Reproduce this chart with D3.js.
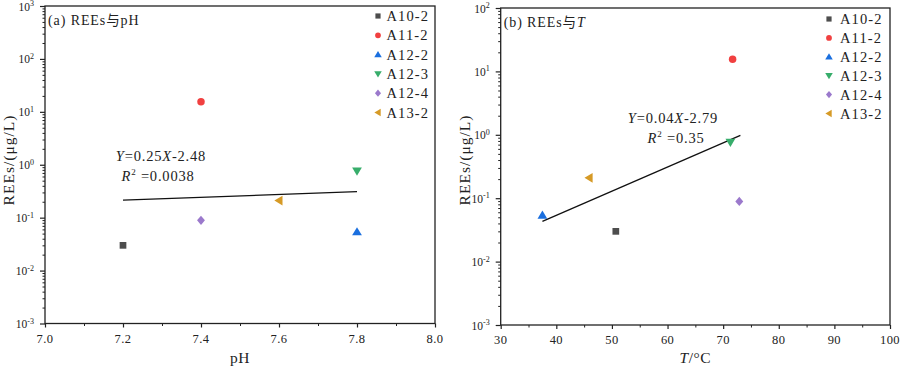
<!DOCTYPE html>
<html><head><meta charset="utf-8">
<script src="https://cdn.jsdelivr.net/npm/d3@7"></script>
<style>
body{margin:0;background:#fff;}
svg text{font-family:"Liberation Serif","Times New Roman",serif;fill:#222;}
</style></head>
<body><svg id="c" width="900" height="369"></svg>
<script>
// ---- data ----
const samples = ["A10-2","A11-2","A12-2","A12-3","A12-4","A13-2"];
const colors = ["#4d4d4d","#f14040","#1a6fdf","#37ad6b","#9b79cc","#d69a26"];
const shapes = ["square","circle","triUp","triDown","diamond","triLeft"];
const pH = [7.2, 7.4, 7.8, 7.8, 7.4, 7.6];
const T = [50.7, 71.7, 37.5, 71.3, 72.9, 45.9];
const REEs = [0.030, 15.5, 0.054, 0.76, 0.089, 0.21];
const fitA = [[7.2, 0.215], [7.8, 0.31]];
const fitB = [[37.5, 0.043], [73.1, 0.98]];
const xTicksA = [7.0, 7.2, 7.4, 7.6, 7.8, 8.0];
const xTicksB = [30, 40, 50, 60, 70, 80, 90, 100];
const yExpA = [-3, -2, -1, 0, 1, 2, 3];
const yExpB = [-3, -2, -1, 0, 1, 2];

const svg = d3.select("#c");

function symbolPath(shape, size){
  const s = size;
  switch(shape){
    case "square": return d3.symbol(d3.symbolSquare, s*s*0.8)();
    case "circle": return d3.symbol(d3.symbolCircle, Math.PI*s*s/4)();
    case "diamond": { const r=s*0.62; return `M0,${-r}L${r*0.85},0L0,${r}L${-r*0.85},0Z`; }
    case "triUp": { const r=s*0.62; return `M0,${-r}L${r*1.05},${r*0.75}L${-r*1.05},${r*0.75}Z`; }
    case "triDown": { const r=s*0.62; return `M0,${r}L${r*1.05},${-r*0.75}L${-r*1.05},${-r*0.75}Z`; }
    case "triLeft": { const r=s*0.62; return `M${-r},0L${r*0.75},${-r*1.05}L${r*0.75},${r*1.05}Z`; }
  }
}

function panel(opt){
  const g = svg.append("g");
  const x = d3.scaleLinear().domain(opt.xdom).range([opt.x0, opt.x1]);
  const y = d3.scaleLog().domain([1e-3, Math.pow(10, opt.yExp[opt.yExp.length-1])]).range([opt.y0, opt.y1]);

  g.append("rect").attr("x",opt.x0).attr("y",opt.y1).attr("width",opt.x1-opt.x0).attr("height",opt.y0-opt.y1)
    .attr("fill","none").attr("stroke","#222").attr("stroke-width",1.3);

  const majors = opt.yExp.map(e=>Math.pow(10,e));
  const minors = [];
  opt.yExp.slice(0,-1).forEach(e=>{ for(let k=2;k<=9;k++) minors.push(k*Math.pow(10,e)); });
  g.append("g").attr("transform",`translate(${opt.x0},0)`)
    .call(d3.axisLeft(y).tickValues(majors).tickSize(5).tickFormat(""))
    .call(a=>a.select(".domain").remove()).selectAll("line").attr("stroke","#222").attr("stroke-width",1.2);
  g.append("g").attr("transform",`translate(${opt.x0},0)`)
    .call(d3.axisLeft(y).tickValues(minors).tickSize(2.5).tickFormat(""))
    .call(a=>a.select(".domain").remove()).selectAll("line").attr("stroke","#222").attr("stroke-width",1);
  opt.yExp.forEach(e=>{
    const t = g.append("text").attr("x",opt.x0-11).attr("y",y(Math.pow(10,e))+4.5).attr("text-anchor","end")
      .style("font-size","11.5px");
    t.append("tspan").text("10");
    t.append("tspan").attr("dy",-4.5).style("font-size","8px").text(String(e));
  });

  const step = opt.xTicks[1]-opt.xTicks[0];
  const xmin = [];
  opt.xTicks.slice(0,-1).forEach(v=>xmin.push(v+step/2));
  g.append("g").attr("transform",`translate(0,${opt.y0})`)
    .call(d3.axisBottom(x).tickValues(opt.xTicks).tickSize(4).tickFormat(""))
    .call(a=>a.select(".domain").remove()).selectAll("line").attr("stroke","#222").attr("stroke-width",1.2);
  g.append("g").attr("transform",`translate(0,${opt.y0})`)
    .call(d3.axisBottom(x).tickValues(xmin).tickSize(2.5).tickFormat(""))
    .call(a=>a.select(".domain").remove()).selectAll("line").attr("stroke","#222").attr("stroke-width",1);
  opt.xTicks.forEach(v=>{
    g.append("text").attr("x",x(v)).attr("y",opt.y0+19).attr("text-anchor","middle")
      .style("font-size","12.5px").style("letter-spacing","0.4px").text(opt.xfmt(v));
  });

  g.append("text").attr("transform",`translate(${opt.ylabX},160) rotate(-90)`)
    .attr("text-anchor","middle").style("font-size","15.5px").style("letter-spacing","1px").text("REEs/(μg/L)");
  const xl = g.append("text").attr("x",(opt.x0+opt.x1)/2).attr("y",363).attr("text-anchor","middle")
    .style("font-size","15.5px").style("letter-spacing","0.5px");
  opt.xlab(xl);

  const tt = g.append("text").attr("x",opt.x0+3).attr("y",opt.y1+19).style("font-size","14px").style("letter-spacing","0.9px");
  opt.title(tt);

  g.append("path").datum(opt.fit)
    .attr("d", d3.line().x(d=>x(d[0])).y(d=>y(d[1])))
    .attr("stroke","#111").attr("stroke-width",1.3).attr("fill","none");

  samples.forEach((s,i)=>{
    g.append("path").attr("d",symbolPath(shapes[i],7.5))
      .attr("transform",`translate(${x(opt.xs[i])},${y(REEs[i])})`).attr("fill",colors[i]);
  });

  const eq1 = g.append("text").attr("x",opt.eqX).attr("y",opt.eqY).attr("text-anchor","middle")
    .style("font-size","14.5px").style("letter-spacing","0.8px");
  eq1.append("tspan").style("font-style","italic").text("Y");
  eq1.append("tspan").text("=" + opt.eqA);
  eq1.append("tspan").style("font-style","italic").text("X");
  eq1.append("tspan").text(opt.eqB);
  const eq2 = g.append("text").attr("x",opt.eqX+opt.r2dx).attr("y",opt.eqY+20).attr("text-anchor","middle")
    .style("font-size","14.5px").style("letter-spacing","0.8px");
  eq2.append("tspan").style("font-style","italic").text("R");
  eq2.append("tspan").attr("dy",-6).style("font-size","9px").text("2");
  eq2.append("tspan").attr("dy",6).text(" =" + opt.r2);

  samples.forEach((s,i)=>{
    const ly = opt.legY + i*opt.legStep;
    g.append("path").attr("d",symbolPath(shapes[i],5.8))
      .attr("transform",`translate(${opt.legX},${ly})`).attr("fill",colors[i]);
    g.append("text").attr("x",opt.legX+opt.legDx).attr("y",ly+5).style("font-size","14.5px")
      .style("letter-spacing","1.1px").text(s);
  });
}

panel({
  x0:45, x1:435, y0:323.5, y1:6, xdom:[7.0,8.0], yExp:yExpA, xTicks:xTicksA, xs:pH,
  xfmt:v=>v.toFixed(1), fit:fitA, ylabX:14,
  xlab:t=>t.text("pH"),
  title:t=>{t.append("tspan").text("(a) REEs"); t.append("tspan").style("font-family","'Noto Sans CJK SC'").style("font-size","13.5px").text("与"); t.append("tspan").text("pH");},
  eqX:161, eqY:161, eqA:"0.25", eqB:"-2.48", r2:"0.0038", r2dx:-3,
  legX:378, legDx:8.5, legY:16, legStep:19.3
});
panel({
  x0:500.7, x1:890, y0:325, y1:8, xdom:[30,100], yExp:yExpB, xTicks:xTicksB, xs:T,
  xfmt:v=>String(v), fit:fitB, ylabX:470,
  xlab:t=>{t.append("tspan").style("font-style","italic").text("T"); t.append("tspan").text("/°C");},
  title:t=>{t.append("tspan").text("(b) REEs"); t.append("tspan").style("font-family","'Noto Sans CJK SC'").style("font-size","13.5px").text("与"); t.append("tspan").style("font-style","italic").text("T");},
  eqX:673, eqY:123, eqA:"0.04", eqB:"-2.79", r2:"0.35", r2dx:3,
  legX:829, legDx:11, legY:19, legStep:18.9
});
</script></body></html>
